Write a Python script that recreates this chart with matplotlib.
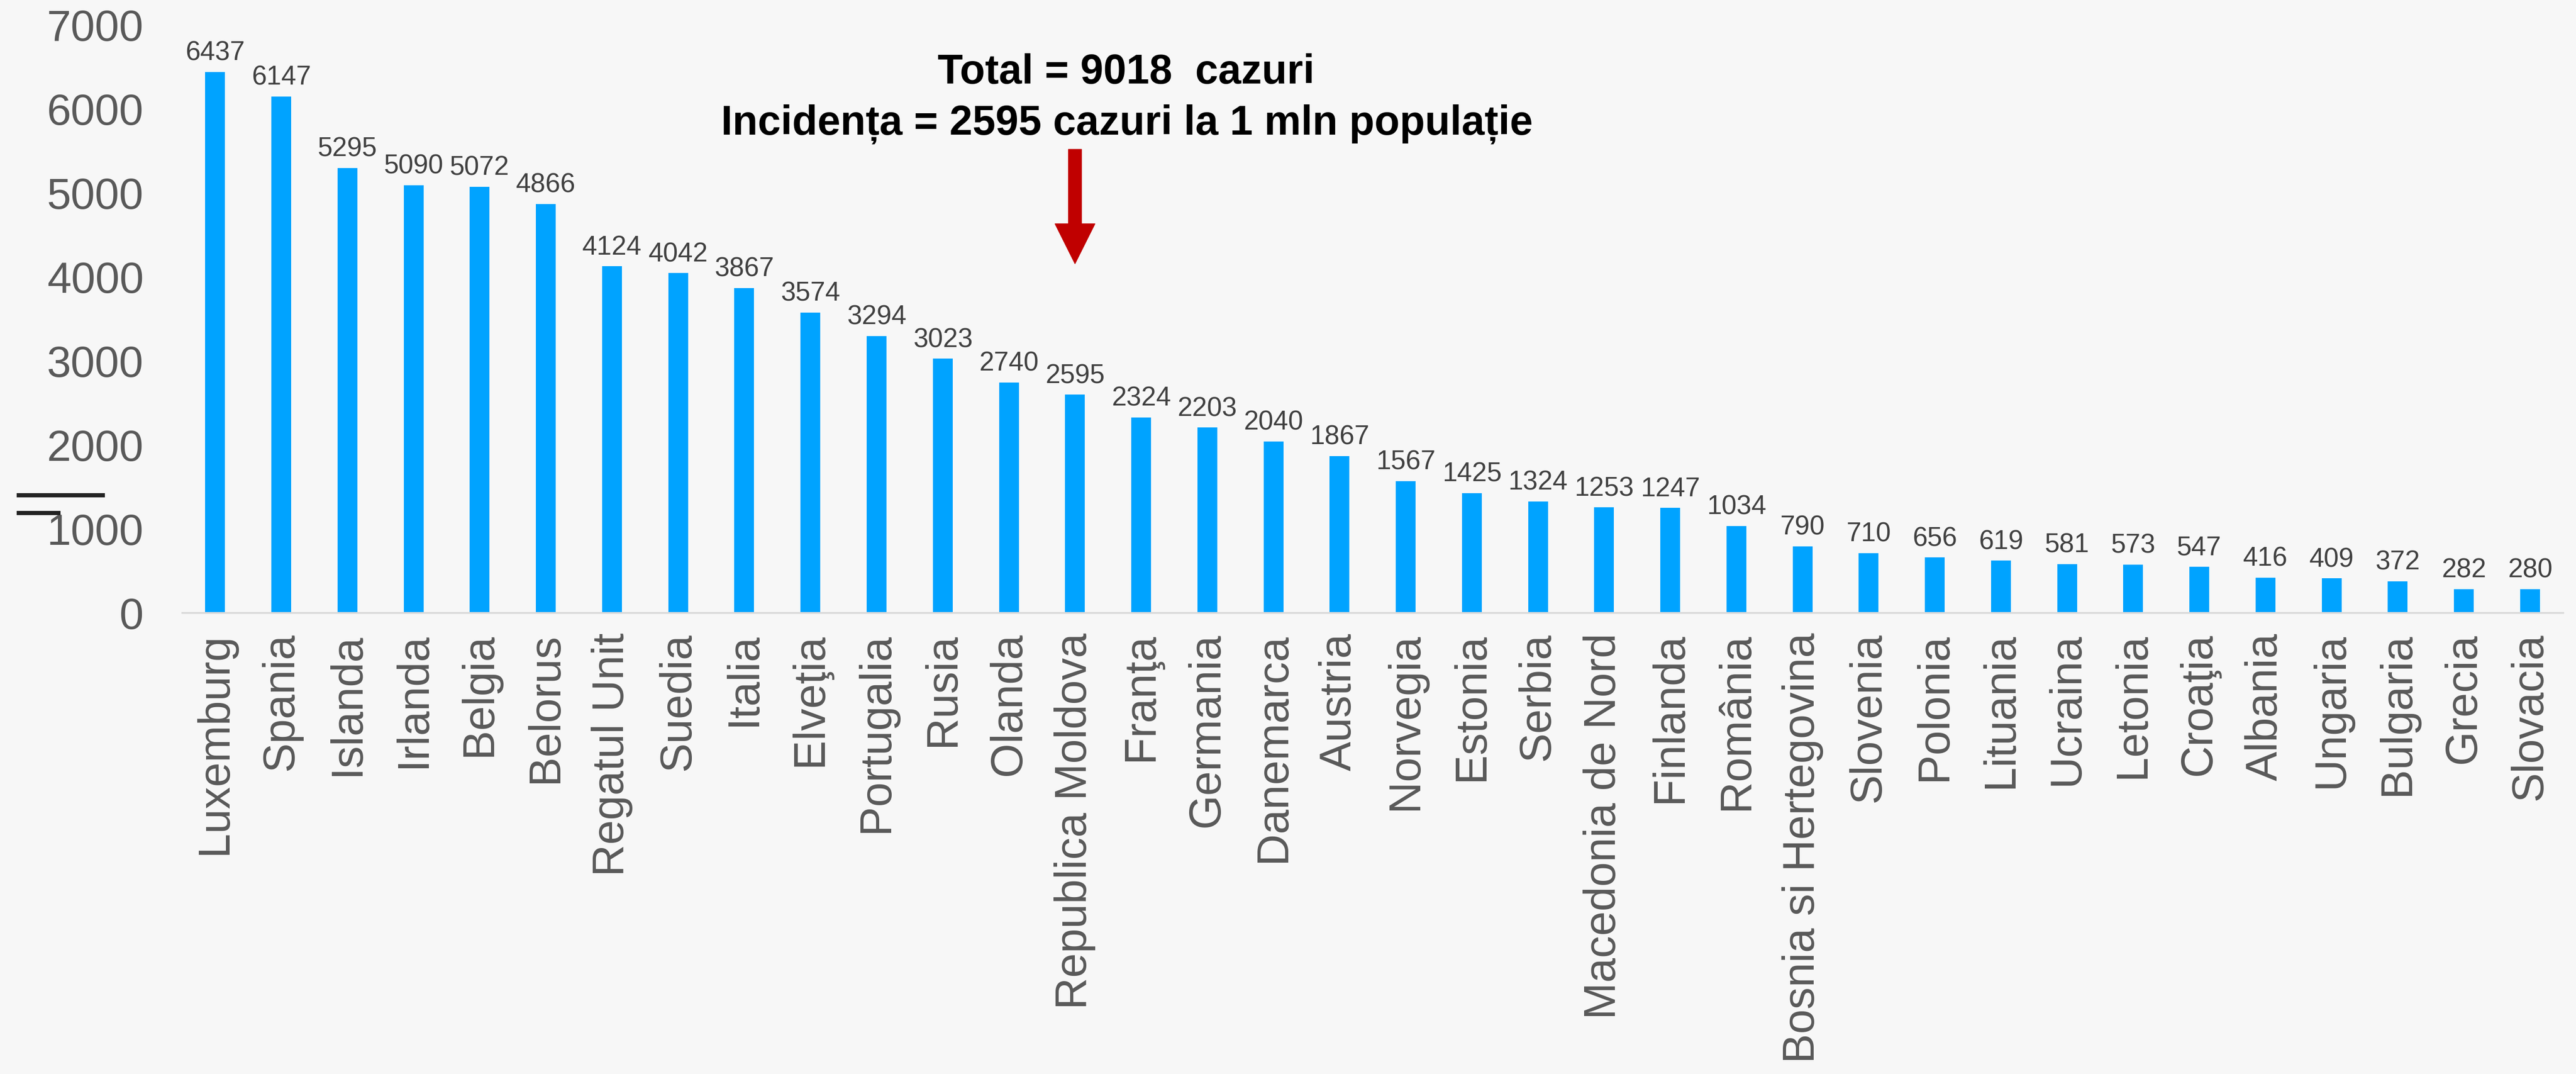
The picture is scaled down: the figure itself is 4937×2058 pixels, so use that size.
import matplotlib
matplotlib.use("Agg")
import matplotlib.pyplot as plt
from matplotlib.lines import Line2D

# date: incidenta la 1 mln populatie
tari = ["Luxemburg", "Spania", "Islanda", "Irlanda", "Belgia", "Belorus",
        "Regatul Unit", "Suedia", "Italia", "Elveţia", "Portugalia", "Rusia",
        "Olanda", "Republica Moldova", "Franţa", "Germania", "Danemarca",
        "Austria", "Norvegia", "Estonia", "Serbia", "Macedonia de Nord",
        "Finlanda", "România", "Bosnia si Hertegovina", "Slovenia", "Polonia",
        "Lituania", "Ucraina", "Letonia", "Croaţia", "Albania", "Ungaria",
        "Bulgaria", "Grecia", "Slovacia"]
valori = [6437, 6147, 5295, 5090, 5072, 4866, 4124, 4042, 3867, 3574, 3294,
          3023, 2740, 2595, 2324, 2203, 2040, 1867, 1567, 1425, 1324, 1253,
          1247, 1034, 790, 710, 656, 619, 581, 573, 547, 416, 409, 372, 282, 280]
y_ticks = [0, 1000, 2000, 3000, 4000, 5000, 6000, 7000]
titlu1 = "Total = 9018  cazuri"
titlu2 = "Incidența = 2595 cazuri la 1 mln populație"
tara_marcata = "Republica Moldova"

plt.rcParams['font.family'] = ['Liberation Sans', 'DejaVu Sans']
bg = '#f7f7f7'

fig = plt.figure(figsize=(49.37, 20.58), dpi=100, facecolor=bg)
ax = fig.add_axes([0.0707, 0.4295, 0.9243, 0.5475])
ax.set_facecolor(bg)

x = list(range(len(tari)))
ax.bar(x, valori, width=0.3, color='#00a3ff', zorder=2)
for xi, v in zip(x, valori):
    ax.annotate(str(v), (xi, v), xytext=(0, 16), textcoords='offset points',
                ha='center', va='baseline', fontsize=37, color='#404040')

ax.set_xlim(-0.5, len(tari) - 0.5)
ax.set_ylim(0, 7000)
ax.set_yticks(y_ticks)
ax.set_yticklabels([str(t) for t in y_ticks], fontsize=60, color='#595959')
ax.set_xticks(x)
ax.set_xticklabels(tari, rotation=90, fontsize=61, color='#595959')
ax.tick_params(axis='y', length=0, pad=53)
ax.tick_params(axis='x', length=0, pad=28)
for s in ['top', 'right', 'left']:
    ax.spines[s].set_visible(False)
ax.spines['bottom'].set_color('#d9d9d9')
ax.spines['bottom'].set_linewidth(2.5)

# titlu
bold_narrow = ['Liberation Sans Narrow', 'Liberation Sans', 'DejaVu Sans']
fig.text(0.4371, 1 - 160 / 2058, titlu1, ha='center', va='baseline',
         fontsize=57, fontweight='bold', family=bold_narrow, color='black')
fig.text(0.4375, 1 - 257 / 2058, titlu2, ha='center', va='baseline',
         fontsize=57, fontweight='bold', family=bold_narrow, color='black')

# sageata rosie spre Moldova
im = tari.index(tara_marcata)
ax.annotate('', xy=(im, 4155), xytext=(im, 5516), annotation_clip=False,
            arrowprops=dict(arrowstyle='simple,head_length=5.5,head_width=5.5,tail_width=1.8',
                            mutation_scale=10, color='#c00000', shrinkA=0, shrinkB=0))

# liniile negre din stanga
fig.add_artist(Line2D([32 / 4937, 201 / 4937], [1 - 949 / 2058] * 2,
                      color='#222222', lw=5.8, solid_capstyle='butt'))
fig.add_artist(Line2D([32 / 4937, 116 / 4937], [1 - 983 / 2058] * 2,
                      color='#222222', lw=5.8, solid_capstyle='butt'))

fig.savefig('out.png', dpi=100, facecolor=bg)
